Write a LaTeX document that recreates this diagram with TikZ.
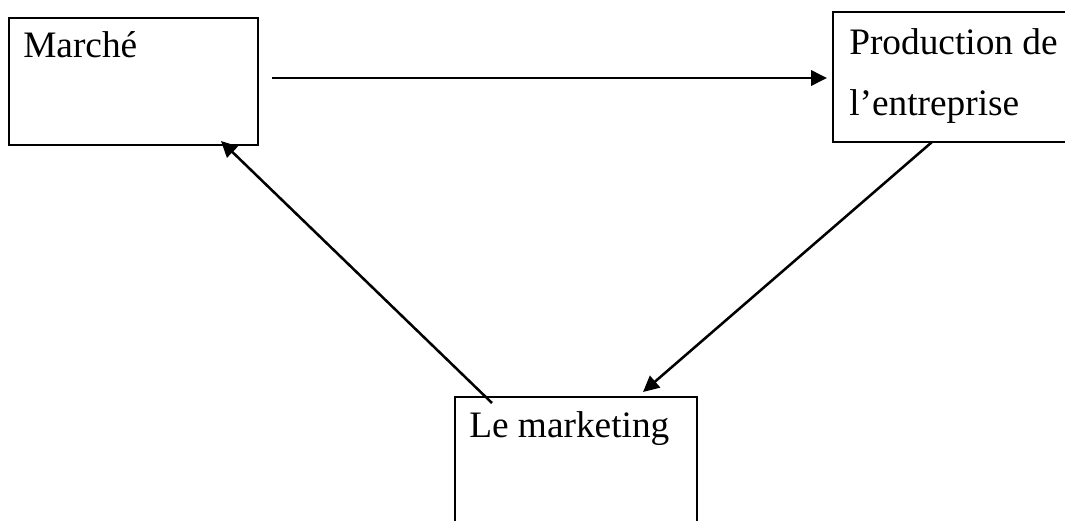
\documentclass[tikz,border=0pt]{standalone}
\usepackage{fontspec}
\setmainfont{Liberation Serif}
\usetikzlibrary{arrows.meta,fit}
\tikzset{
  box/.style={draw, line width=1pt, inner sep=0pt},
  lbl/.style={anchor=base west, inner sep=0pt, font=\fontsize{28pt}{34pt}\selectfont},
  conn/.style={line width=1.9pt, -{Triangle[length=12pt,width=11.5pt]}}
}
\begin{document}
\begin{tikzpicture}[x=0.75pt,y=-0.75pt]
\useasboundingbox (0,0) rectangle (1065,521);
\clip (0,0) rectangle (1065,521);
\node[box, fit={(9,18) (258,145)}] (marche) {};
\node[box, fit={(833,12) (1075,142)}] (prod) {};
\node[box, fit={(455,397) (697,535)}] (mkt) {};
\node[lbl] (tmarche) at (23,57) {Marché};
\node[lbl] (tprod1) at (849,55) {Production de};
\node[lbl] (tprod2) at (849,115) {l’entreprise};
\node[lbl] (tmkt) at (469,437) {Le marketing};
\coordinate (a1s) at (272,78);
\coordinate (a1e) at (827,78);
\coordinate (a2s) at (932,142);
\coordinate (a2e) at (643,392);
\coordinate (a3s) at (492,403);
\coordinate (a3e) at (221,141);
\draw[conn] (a1s) -- (a1e);
\draw[conn] (a2s) -- (a2e);
\draw[conn] (a3s) -- (a3e);
\end{tikzpicture}
\end{document}
